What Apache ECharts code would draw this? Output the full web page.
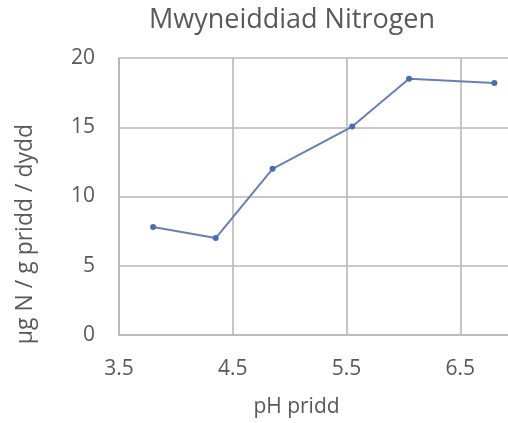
<!DOCTYPE html>
<html>
<head>
<meta charset="utf-8">
<script src="https://cdn.jsdelivr.net/npm/echarts@6/dist/echarts.min.js"></script>
<style>
html, body { margin: 0; padding: 0; background: #fff; }
#chart { width: 508px; height: 423px; }
</style>
</head>
<body>
<div id="chart"></div>
<script>
// pH pridd / mwyneiddiad
var phValues = [3.8, 4.35, 4.85, 5.55, 6.05, 6.8];
var nitrogenValues = [7.8, 7.0, 12.0, 15.05, 18.5, 18.2];

var chart = echarts.init(document.getElementById('chart'));

var points = [];
for (var i = 0; i < phValues.length; i++) {
	points.push([phValues[i], nitrogenValues[i]]);
}

var option = {
	backgroundColor: '#fff',
	animation: false,
	title: {
		text: 'Mwyneiddiad Nitrogen',
		left: 287,
		top: 2,
		textAlign: 'center',
		textStyle: { fontFamily: 'Open Sans', fontSize: 27, fontWeight: 'normal', color: '#595959' }
	},
	grid: { left: 119, top: 58, right: -66, bottom: 88, outerBoundsMode: 'none', containLabel: false },
	xAxis: {
		type: 'value',
		min: 3.5,
		max: 7.5,
		interval: 1,
		name: 'pH pridd',
		nameLocation: 'middle',
		nameGap: 62,
		nameTextStyle: { fontFamily: 'Open Sans', fontSize: 21, color: '#595959', padding: [0, 100, 0, 0] },
		axisLine: { show: true, lineStyle: { color: '#b8b8b8', width: 1.6 } },
		axisTick: { show: false },
		axisLabel: { fontFamily: 'Open Sans', fontSize: 21, color: '#595959', margin: 24 },
		splitLine: { show: true, lineStyle: { color: '#b8b8b8', width: 1.6 } }
	},
	yAxis: {
		type: 'value',
		min: 0,
		max: 20,
		interval: 5,
		name: 'µg N / g pridd / dydd',
		nameLocation: 'middle',
		nameGap: 82,
		nameTextStyle: { fontFamily: 'Open Sans', fontSize: 23, color: '#595959', padding: [0, 75, 0, 0] },
		axisLine: { show: true, lineStyle: { color: '#b8b8b8', width: 1.6 } },
		axisTick: { show: false },
		axisLabel: { fontFamily: 'Open Sans', fontSize: 21, color: '#595959', margin: 24 },
		splitLine: { show: true, lineStyle: { color: '#b8b8b8', width: 1.6 } }
	},
	series: [{
		type: 'line',
		data: points,
		symbol: 'circle',
		symbolSize: 6,
		lineStyle: { color: '#6b7fae', width: 2 },
		itemStyle: { color: '#4a6db0' }
	}]
};

chart.setOption(option);
</script>
</body>
</html>
